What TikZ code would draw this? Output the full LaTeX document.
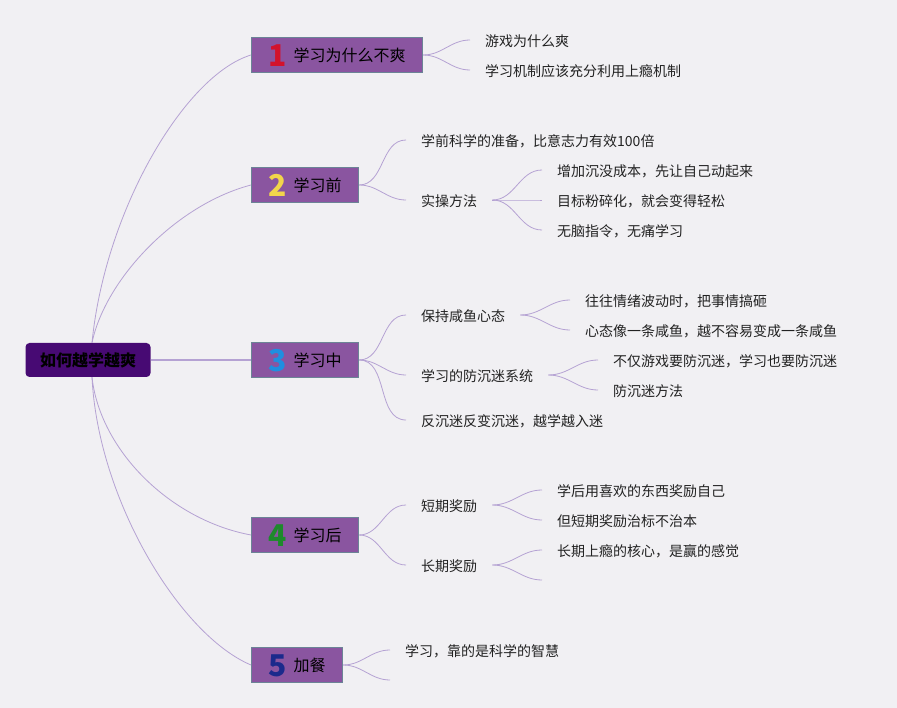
\documentclass[tikz,border=0pt]{standalone}
\usepackage{fontspec}
\setmainfont{Noto Sans CJK SC}
\usepackage{tikz}
\usepackage{xcolor}

\definecolor{bgc}{HTML}{F1F0F3}
\definecolor{linkc}{HTML}{B5A2D3}
\definecolor{rootc}{HTML}{470A73}
\definecolor{boxc}{HTML}{8A55A0}
\definecolor{boxline}{HTML}{6C8496}
\definecolor{txtc}{HTML}{222222}
\definecolor{numa}{HTML}{D3122C}
\definecolor{numb}{HTML}{F2D54B}
\definecolor{numc}{HTML}{1F8FE0}
\definecolor{numd}{HTML}{1E8A2C}
\definecolor{nume}{HTML}{1B2A8C}

\newcommand\bignum[2]{\raisebox{-5pt}[0pt][0pt]{\fontsize{30}{30}\selectfont\bfseries\color{#1}#2}\hspace{7pt}}

\begin{document}
\begin{tikzpicture}[x=1pt,y=-1pt]%
  \tikzstyle{rootn}=[rectangle,rounded corners=4pt,fill=rootc,inner sep=0,minimum width=125pt,minimum height=34pt,font=\fontsize{16}{16}\selectfont\bfseries]
  \tikzstyle{boxn}=[rectangle,draw=boxline,fill=boxc,line width=0.8pt,inner xsep=17pt,inner ysep=0,minimum height=35pt,anchor=west,font=\fontsize{16}{16}\selectfont]
  \tikzstyle{leafn}=[inner xsep=15pt,inner ysep=2pt,text height=15pt,text depth=2pt,anchor=west,text=txtc,font=\fontsize{14}{14}\selectfont]
  \tikzstyle{link}=[draw=linkc,line width=0.8pt]
  \fill[bgc] (0,0) rectangle (897,708);
  \useasboundingbox (0,0) rectangle (897,708);
  \node(r)[rootn] at (88,360) {如何越学越爽};
  \node(b1)[boxn] at (251,55) {\bignum{numa}{1}学习为什么不爽};
  \node(b2)[boxn] at (251,185) {\bignum{numb}{2}学习前};
  \node(b3)[boxn] at (251,360) {\bignum{numc}{3}学习中};
  \node(b4)[boxn] at (251,535) {\bignum{numd}{4}学习后};
  \node(b5)[boxn] at (251,665) {\bignum{nume}{5}加餐};
  % 1
  \node(a1)[leafn] at (470,40) {游戏为什么爽};
  \node(a2)[leafn] at (470,70) {学习机制应该充分利用上瘾机制};
  % 2
  \node(c1)[leafn] at (406,140) {学前科学的准备，比意志力有效100倍};
  \node(c2)[leafn] at (406,200) {实操方法};
  \node(c21)[leafn] at (542,170) {增加沉没成本，先让自己动起来};
  \node(c22)[leafn] at (542,200) {目标粉碎化，就会变得轻松};
  \node(c23)[leafn] at (542,230) {无脑指令，无痛学习};
  % 3
  \node(d1)[leafn] at (406,315) {保持咸鱼心态};
  \node(d11)[leafn] at (570,300) {往往情绪波动时，把事情搞砸};
  \node(d12)[leafn] at (570,330) {心态像一条咸鱼，越不容易变成一条咸鱼};
  \node(d2)[leafn] at (406,375) {学习的防沉迷系统};
  \node(d21)[leafn] at (598,360) {不仅游戏要防沉迷，学习也要防沉迷};
  \node(d22)[leafn] at (598,390) {防沉迷方法};
  \node(d3)[leafn] at (406,420) {反沉迷反变沉迷，越学越入迷};
  % 4
  \node(e1)[leafn] at (406,505) {短期奖励};
  \node(e11)[leafn] at (542,490) {学后用喜欢的东西奖励自己};
  \node(e12)[leafn] at (542,520) {但短期奖励治标不治本};
  \node(e2)[leafn] at (406,565) {长期奖励};
  \node(e21)[leafn] at (542,550) {长期上瘾的核心，是赢的感觉};
  \coordinate(e22) at (542,580);
  % 5
  \node(f1)[leafn] at (390,650) {学习，靠的是科学的智慧};
  \coordinate(f2) at (390,680);
  % root links
  \draw[link] ([xshift=4pt]r.north) .. controls (105,210) and (185,75) .. (b1.west);
  \draw[link] ([xshift=4pt]r.north) .. controls (105,280) and (175,205) .. (b2.west);
  \draw[link,line width=1.2pt] (r.east) -- (b3.west);
  \draw[link] ([xshift=4pt]r.south) .. controls (100,450) and (170,520) .. (b4.west);
  \draw[link] ([xshift=4pt]r.south) .. controls (98,500) and (180,635) .. (b5.west);
  % branch links
  \foreach \p/\c in {b1/a1,b1/a2,b2/c1,b2/c2,c2/c21,c2/c22,c2/c23,
    b3/d1,b3/d2,b3/d3,d1/d11,d1/d12,d2/d21,d2/d22,
    b4/e1,b4/e2,e1/e11,e1/e12,e2/e21,b5/f1}
    \draw[link] (\p.east) to[out=0,in=180] (\c.west);
  \draw[link] (e2.east) to[out=0,in=180] (e22);
  \draw[link] (b5.east) to[out=0,in=180] (f2);
\end{tikzpicture}
\end{document}
